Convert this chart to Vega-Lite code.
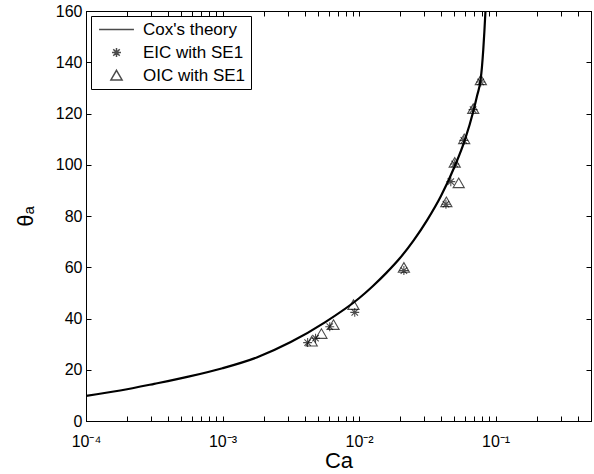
{
  "$schema": "https://vega.github.io/schema/vega-lite/v6.json",
  "width": 505,
  "height": 410,
  "autosize": {"type": "none"},
  "padding": {"left": 86, "top": 11, "right": 3, "bottom": 53},
  "background": "white",
  "config": {
    "font": "Liberation Sans",
    "view": {"stroke": "black", "strokeWidth": 1},
    "axis": {
      "grid": false,
      "domainColor": "black",
      "domainWidth": 1,
      "tickColor": "black",
      "labelColor": "black",
      "labelFont": "Liberation Sans",
      "labelFontSize": 16,
      "titleFont": "Liberation Sans",
      "titleColor": "black",
      "titleFontWeight": "normal",
      "titleFontSize": 22
    }
  },
  "datasets": {
    "cox": [
      {"Ca": 0.0001, "theta": 9.8, "series": "Cox's theory"},
      {"Ca": 0.000178, "theta": 11.9, "series": "Cox's theory"},
      {"Ca": 0.000316, "theta": 14.5, "series": "Cox's theory"},
      {"Ca": 0.000562, "theta": 17.3, "series": "Cox's theory"},
      {"Ca": 0.001, "theta": 20.6, "series": "Cox's theory"},
      {"Ca": 0.00178, "theta": 24.8, "series": "Cox's theory"},
      {"Ca": 0.00316, "theta": 30.8, "series": "Cox's theory"},
      {"Ca": 0.00562, "theta": 38.5, "series": "Cox's theory"},
      {"Ca": 0.01, "theta": 47.9, "series": "Cox's theory"},
      {"Ca": 0.012589, "theta": 52.6, "series": "Cox's theory"},
      {"Ca": 0.015849, "theta": 57.8, "series": "Cox's theory"},
      {"Ca": 0.019953, "theta": 63.6, "series": "Cox's theory"},
      {"Ca": 0.025119, "theta": 70.5, "series": "Cox's theory"},
      {"Ca": 0.031623, "theta": 78.5, "series": "Cox's theory"},
      {"Ca": 0.039811, "theta": 87.8, "series": "Cox's theory"},
      {"Ca": 0.050119, "theta": 99.3, "series": "Cox's theory"},
      {"Ca": 0.059429, "theta": 109.5, "series": "Cox's theory"},
      {"Ca": 0.069183, "theta": 121.5, "series": "Cox's theory"},
      {"Ca": 0.073282, "theta": 127.0, "series": "Cox's theory"},
      {"Ca": 0.077625, "theta": 133.0, "series": "Cox's theory"},
      {"Ca": 0.079433, "theta": 138.0, "series": "Cox's theory"},
      {"Ca": 0.081283, "theta": 145.0, "series": "Cox's theory"},
      {"Ca": 0.082794, "theta": 152.0, "series": "Cox's theory"},
      {"Ca": 0.084333, "theta": 160.0, "series": "Cox's theory"}
    ],
    "exp": [
      {"Ca": 0.0042, "theta": 30.6, "series": "EIC with SE1"},
      {"Ca": 0.0048, "theta": 32.3, "series": "EIC with SE1"},
      {"Ca": 0.0061, "theta": 36.8, "series": "EIC with SE1"},
      {"Ca": 0.0093, "theta": 42.4, "series": "EIC with SE1"},
      {"Ca": 0.0213, "theta": 58.7, "series": "EIC with SE1"},
      {"Ca": 0.0433, "theta": 84.6, "series": "EIC with SE1"},
      {"Ca": 0.047, "theta": 93.4, "series": "EIC with SE1"},
      {"Ca": 0.0502, "theta": 100.3, "series": "EIC with SE1"},
      {"Ca": 0.0585, "theta": 109.5, "series": "EIC with SE1"},
      {"Ca": 0.0684, "theta": 121.5, "series": "EIC with SE1"},
      {"Ca": 0.0778, "theta": 132.3, "series": "EIC with SE1"},
      {"Ca": 0.0045, "theta": 31.0, "series": "OIC with SE1"},
      {"Ca": 0.0053, "theta": 34.0, "series": "OIC with SE1"},
      {"Ca": 0.0065, "theta": 37.5, "series": "OIC with SE1"},
      {"Ca": 0.0091, "theta": 45.3, "series": "OIC with SE1"},
      {"Ca": 0.0213, "theta": 59.8, "series": "OIC with SE1"},
      {"Ca": 0.0436, "theta": 85.4, "series": "OIC with SE1"},
      {"Ca": 0.0537, "theta": 92.8, "series": "OIC with SE1"},
      {"Ca": 0.0502, "theta": 100.8, "series": "OIC with SE1"},
      {"Ca": 0.0589, "theta": 110.0, "series": "OIC with SE1"},
      {"Ca": 0.0686, "theta": 121.8, "series": "OIC with SE1"},
      {"Ca": 0.078, "theta": 133.0, "series": "OIC with SE1"}
    ]
  },
  "layer": [
    {
      "data": {"name": "cox"},
      "mark": {"type": "line", "color": "black", "strokeWidth": 2.2, "clip": true, "interpolate": "monotone"},
      "encoding": {
        "x": {
          "field": "Ca", "type": "quantitative",
          "scale": {"type": "log", "domain": [0.0001, 0.5]},
          "axis": {
            "orient": "bottom",
            "title": "Ca",
            "titlePadding": 1,
            "values": [0.0001,0.0002,0.0003,0.0004,0.0005,0.0006,0.0007,0.0008,0.0009,0.001,0.002,0.003,0.004,0.005,0.006,0.007,0.008,0.009,0.01,0.02,0.03,0.04,0.05,0.06,0.07,0.08,0.09,0.1,0.2,0.3,0.4,0.5],
            "labelExpr": "datum.value == 0.0001 ? '10⁻⁴' : datum.value == 0.001 ? '10⁻³' : datum.value == 0.01 ? '10⁻²' : datum.value == 0.1 ? '10⁻¹' : ''",
            "labelOverlap": false,
            "labelFlush": false,
            "labelBaseline": "alphabetic",
            "tickSize": -5,
            "labelPadding": 30,
            "encode": {"ticks": {"update": {"y2": {"signal": "abs(log(datum.value)/LN10 - round(log(datum.value)/LN10)) < 0.01 ? -5 : -2.5"}}}}
          }
        },
        "y": {
          "field": "theta", "type": "quantitative",
          "scale": {"domain": [0, 160]},
          "axis": {
            "orient": "left",
            "title": "θₐ",
            "titlePadding": 18,
            "values": [0,20,40,60,80,100,120,140,160],
            "tickSize": -5,
            "labelPadding": 9
          }
        }
      }
    },
    {
      "data": {"name": "exp"},
      "mark": {"type": "point", "filled": false, "strokeWidth": 1.1, "color": "black", "size": 80, "clip": true},
      "encoding": {
        "x": {
          "field": "Ca", "type": "quantitative",
          "scale": {"type": "log", "domain": [0.0001, 0.5]},
          "axis": {
            "orient": "top",
            "title": null,
            "labels": false,
            "values": [0.0001,0.0002,0.0003,0.0004,0.0005,0.0006,0.0007,0.0008,0.0009,0.001,0.002,0.003,0.004,0.005,0.006,0.007,0.008,0.009,0.01,0.02,0.03,0.04,0.05,0.06,0.07,0.08,0.09,0.1,0.2,0.3,0.4,0.5],
            "tickSize": -5,
            "encode": {"ticks": {"update": {"y2": {"signal": "abs(log(datum.value)/LN10 - round(log(datum.value)/LN10)) < 0.01 ? 5 : 2.5"}}}}
          }
        },
        "y": {
          "field": "theta", "type": "quantitative",
          "scale": {"domain": [0, 160]},
          "axis": {
            "orient": "right",
            "title": null,
            "labels": false,
            "values": [0,20,40,60,80,100,120,140,160],
            "tickSize": -5
          }
        },
        "shape": {
          "field": "series", "type": "nominal",
          "scale": {
            "domain": ["Cox's theory", "EIC with SE1", "OIC with SE1"],
            "range": ["M-3.9,0L3.9,0", "M-1,0L1,0M0,-1L0,1M-0.72,-0.72L0.72,0.72M-0.72,0.72L0.72,-0.72", "M0,-1.15L1.25,1L-1.25,1Z"]
          },
          "legend": {
            "title": null,
            "orient": "top-left",
            "offset": 5,
            "strokeColor": "black",
            "fillColor": "white",
            "padding": 5,
            "rowPadding": 5,
            "symbolOffset": 12,
            "labelOffset": 18,
            "symbolSize": 80,
            "symbolStrokeColor": "black",
            "symbolFillColor": "transparent",
            "labelFont": "Liberation Sans",
            "labelFontSize": 17,
            "labelColor": "black",
            "encode": {"symbols": {"update": {"strokeWidth": {"signal": "datum.index === 0 || datum.value === \"Cox's theory\" ? 2 : 1"}}}}
          }
        }
      }
    }
  ],
  "resolve": {"axis": {"x": "independent", "y": "independent"}}
}
